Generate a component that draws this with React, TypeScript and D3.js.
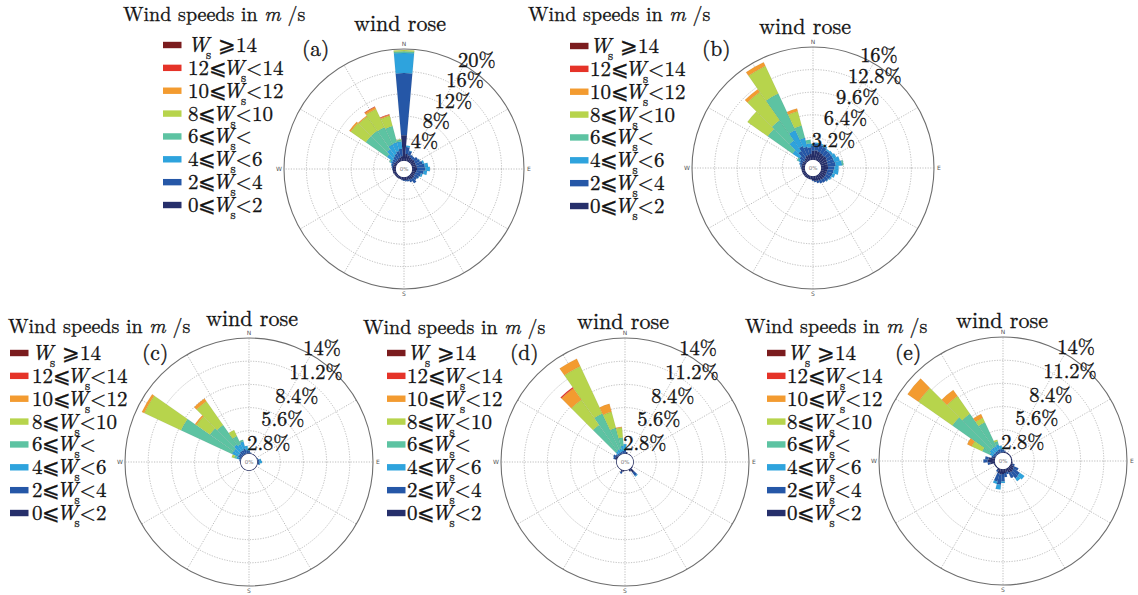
import React from 'react';
import * as d3 from 'd3';

// Speed bins: 0-2, 2-4, 4-6, 6-8, 8-10, 10-12, 12-14, >=14  (values in % frequency)
const speedColors = ['#262f6b', '#2557a7', '#2ea3dd', '#5dc3a2', '#b7d44c', '#f39b30', '#e53328', '#7b1c1e'];

// legend order top -> bottom
const legendPre = ['', '12⩽', '10⩽', '8⩽', '6⩽', '4⩽', '2⩽', '0⩽'];
const legendPost = [' ⩾14', '<14', '<12', '<10', '<', '<6', '<4', '<2'];
const legendColorIdx = [7, 6, 5, 4, 3, 2, 1, 0];

// rows: [direction(deg), f(0-2), f(2-4), f(4-6), f(6-8), f(8-10), f(10-12), f(12-14), f(>=14)]
const roseA = [
  [0, 4.6, 11.1, 3.6, 0.3, 0.2],
  [10, 1.3, 1.2, 0.3],
  [20, 1.1, 0.8, 0.1],
  [30, 0.9, 0.5],
  [40, 0.8, 0.5],
  [50, 0.9, 0.7],
  [60, 0.8, 0.9, 0.1],
  [70, 0.8, 1.2, 0.3],
  [80, 0.9, 1.4, 0.6],
  [90, 0.9, 1.5, 0.8],
  [100, 0.8, 1.3, 0.6],
  [110, 0.7, 1.0, 0.3],
  [120, 0.7, 0.8, 0.1],
  [130, 0.8, 0.6],
  [140, 0.8, 0.9],
  [150, 0.7, 0.5],
  [160, 0.6, 0.3],
  [170, 0.6, 0.2],
  [180, 0.6, 0.1],
  [190, 0.5, 0.1],
  [200, 0.5],
  [210, 0.5],
  [220, 0.5],
  [230, 0.5],
  [240, 0.5],
  [250, 0.6],
  [260, 0.6],
  [270, 0.6, 0.1],
  [280, 0.6, 0.2],
  [290, 0.6, 0.3, 0.1],
  [300, 0.6, 0.4, 0.3, 0.2],
  [310, 0.5, 0.6, 1.2, 4.6, 3.3, 0.3],
  [320, 0.5, 0.8, 1.6, 4.0, 3.1, 0.2],
  [330, 0.6, 1.0, 1.8, 3.4, 3.6, 0.4, 0.1],
  [340, 0.7, 1.2, 1.6, 3.0, 1.9, 0.2, 0.1],
  [350, 0.9, 1.3, 1.3, 0.3, 0.1],
];

const roseB = [
  [0, 1.3, 0.8, 0.2],
  [10, 1.4, 0.9, 0.2],
  [20, 1.3, 1.0, 0.2],
  [30, 1.2, 1.0, 0.2],
  [40, 1.1, 0.9, 0.2],
  [50, 1.2, 0.8, 0.3],
  [60, 1.1, 0.9, 0.5],
  [70, 1.0, 1.0, 0.8],
  [80, 1.0, 1.1, 0.9, 0.2],
  [90, 1.0, 0.9, 0.6],
  [100, 0.9, 0.9, 0.7],
  [110, 0.9, 0.8, 0.4],
  [120, 0.9, 0.7, 0.2],
  [130, 0.9, 0.6, 0.1],
  [140, 0.9, 0.5],
  [150, 0.8, 0.5],
  [160, 0.8, 0.3],
  [170, 0.7, 0.2],
  [180, 0.6, 0.1],
  [190, 0.5],
  [200, 0.5],
  [210, 0.5],
  [220, 0.5],
  [230, 0.5],
  [240, 0.5],
  [250, 0.5],
  [260, 0.5],
  [270, 0.5, 0.1],
  [280, 0.5, 0.2],
  [290, 0.5, 0.3, 0.1],
  [300, 0.5, 0.4, 0.3, 0.2],
  [310, 0.4, 0.8, 1.2, 4.3, 3.5],
  [320, 0.6, 1.2, 1.8, 3.5, 4.9, 0.5],
  [330, 0.8, 1.5, 2.5, 5.7, 4.3, 0.6],
  [340, 0.8, 1.2, 1.3, 1.8, 2.1, 0.4],
  [350, 0.9, 0.9, 0.6, 0.5],
];

const roseC = [
  [0, 0.1, 0.3, 0.3],
  [10, 0.1, 0.1],
  [20, 0.1],
  [30, 0.1],
  [40, 0.1],
  [50, 0.1],
  [60, 0.1],
  [70, 0.1, 0.1],
  [80, 0.1, 0.2, 0.2],
  [90, 0.1, 0.2, 0.3],
  [100, 0.1, 0.2, 0.1],
  [110, 0.1],
  [120, 0.1],
  [130, 0.1],
  [140, 0.1],
  [150, 0.1],
  [160, 0.1],
  [170, 0.1],
  [180, 0.1],
  [190, 0.1],
  [200, 0.1],
  [210, 0.1],
  [220, 0.1],
  [230, 0.1],
  [240, 0.1],
  [250, 0.1],
  [260, 0.1],
  [270, 0.1],
  [280, 0.1, 0.1],
  [290, 0.1, 0.2, 0.3, 0.3, 0.3],
  [300, 0.1, 0.4, 0.8, 6.8, 4.9, 0.3],
  [310, 0.1, 0.4, 0.8, 3.5, 2.0, 0.2],
  [320, 0.1, 0.5, 1.0, 2.9, 3.5, 0.4],
  [330, 0.1, 0.5, 0.8, 1.1, 0.8],
  [340, 0.1, 0.6, 0.9, 0.2],
  [350, 0.1, 0.4, 0.5],
];

const roseD = [
  [0, 0.1, 0.4, 0.7],
  [10, 0.25],
  [20, 0.1],
  [30, 0.1],
  [40, 0.1],
  [50, 0.1],
  [60, 0.1],
  [70, 0.1],
  [80, 0.1],
  [90, 0.1],
  [100, 0.1],
  [110, 0.1],
  [120, 0.1],
  [130, 0.15],
  [140, 0.6, 0.5, 0.1],
  [150, 0.3],
  [160, 0.1],
  [170, 0.1],
  [180, 0.1],
  [190, 0.2],
  [200, 0.3, 0.2],
  [210, 0.1],
  [220, 0.1],
  [230, 0.1],
  [240, 0.1],
  [250, 0.1],
  [260, 0.1],
  [270, 0.1],
  [280, 0.1],
  [290, 0.3, 0.2],
  [300, 0.3, 0.3],
  [310, 0.2, 0.2],
  [320, 0.1, 0.2, 0.3, 3.9, 3.7, 1.7, 0.15],
  [330, 0.1, 0.2, 0.4, 4.8, 6.3, 1.0],
  [340, 0.1, 0.2, 0.4, 2.6, 2.0, 1.0],
  [350, 0.1, 0.3, 0.6, 1.0, 1.2, 0.1],
];

const roseE = [
  [0, 0.1, 0.3, 0.3],
  [10, 0.2, 0.1],
  [20, 0.15],
  [30, 0.15],
  [40, 0.15],
  [50, 0.15],
  [60, 0.15],
  [70, 0.15],
  [80, 0.15],
  [90, 0.15],
  [100, 0.2],
  [110, 0.3, 0.2],
  [120, 0.5, 0.6],
  [130, 0.6, 0.9, 0.7],
  [140, 0.7, 0.9, 0.4],
  [150, 0.6, 0.7],
  [160, 0.4, 0.3],
  [170, 0.5, 0.5],
  [180, 0.6, 0.9, 0.2],
  [190, 0.7, 1.2, 0.6],
  [200, 0.6, 1.0, 0.3],
  [210, 0.3, 0.2],
  [220, 0.15],
  [230, 0.15],
  [240, 0.15],
  [250, 0.2],
  [260, 0.6, 0.3],
  [270, 0.9, 0.5],
  [280, 0.8, 0.4],
  [290, 0.3, 0.2],
  [300, 0.1, 0.3, 0.4, 1.0, 1.4, 0.6],
  [310, 0.1, 0.3, 0.6, 5.5, 5.0, 1.6],
  [320, 0.1, 0.3, 0.6, 5.0, 2.6, 0.9],
  [330, 0.1, 0.3, 0.6, 3.2, 0.6, 0.5],
  [340, 0.1, 0.4, 0.6, 0.4, 0.2],
  [350, 0.1, 0.4, 0.4],
];

const ticksA = [4, 8, 12, 16, 20];
const ticksB = [3.2, 6.4, 9.6, 12.8, 16];
const ticksC = [2.8, 5.6, 8.4, 11.2, 14];
const ticksD = [2.8, 5.6, 8.4, 11.2, 14];
const ticksE = [2.8, 5.6, 8.4, 11.2, 14];

const panelNames = ['(a)', '(b)', '(c)', '(d)', '(e)'];
const compass = ['N', 'E', 'S', 'W'];

// layout (positions / sizes)
const layouts = [
  { data: roseA, ticks: ticksA, cx: 404, cy: 169, R: 120, lab: [0.527, -9.2, -0.902, -0.8],
    legX: 123, legTitleY: 21, swX: 163, txX: 188, rowY0: 45, titleX: 400, titleY: 31, pX: 302, pY: 56 },
  { data: roseB, ticks: ticksB, cx: 813, cy: 168, R: 121, lab: [0.535, -17.6, -0.942, 0.4],
    legX: 528, legTitleY: 21, swX: 570, txX: 590, rowY0: 46, titleX: 805, titleY: 34, pX: 702, pY: 56 },
  { data: roseC, ticks: ticksC, cx: 249, cy: 462, R: 124, lab: [0.604, -20.7, -1.026, 13],
    legX: 8, legTitleY: 333, swX: 10, txX: 32, rowY0: 353, titleX: 252, titleY: 326, pX: 142, pY: 360 },
  { data: roseD, ticks: ticksD, cx: 625, cy: 462, R: 124, lab: [0.604, -20.7, -1.026, 13],
    legX: 363, legTitleY: 334, swX: 387, txX: 407, rowY0: 353, titleX: 623, titleY: 329, pX: 510, pY: 360 },
  { data: roseE, ticks: ticksE, cx: 1003, cy: 461, R: 124, lab: [0.604, -20.7, -1.026, 13],
    legX: 745, legTitleY: 333, swX: 767, txX: 787, rowY0: 353, titleX: 1002, titleY: 328, pX: 895, pY: 360 },
];

const R0 = 8;
const ROW_DY = 22.86;
const binKeys = d3.range(8).map(String);

const serifStyle = { fontFamily: '"Latin Modern Roman"' } as React.CSSProperties;
const sansStyle = { fontFamily: '"DejaVu Sans"' } as React.CSSProperties;
const INK = '#141414';

function Rose({ L, name }: { L: any; name: string }) {
  const fmax = L.ticks[L.ticks.length - 1];
  const r = d3.scaleLinear().domain([0, fmax]).range([R0, L.R]);
  const rows = L.data.map((row: number[]) => {
    const o: any = { dir: row[0] };
    binKeys.forEach((k, i) => { o[k] = row[i + 1] ?? 0; });
    return o;
  });
  const series = d3.stack().keys(binKeys)(rows);
  const toRad = (deg: number) => (deg * Math.PI) / 180;
  const arc = d3.arc();
  const gridColor = '#a0a0a0';

  const lab = L.lab;
  return (
    <g>
      {L.ticks.slice(0, -1).map((t: number) => (
        <circle key={'ring' + t} cx={L.cx} cy={L.cy} r={r(t)} fill="none" stroke={gridColor}
          strokeWidth={0.7} strokeDasharray="1.2 1.4" />
      ))}
      {d3.range(0, 360, 30).map((a) => {
        const p0 = d3.pointRadial(toRad(a), R0);
        const p1 = d3.pointRadial(toRad(a), L.R);
        return (
          <line key={'rad' + a} x1={L.cx + p0[0]} y1={L.cy + p0[1]} x2={L.cx + p1[0]} y2={L.cy + p1[1]}
            stroke={gridColor} strokeWidth={0.7} strokeDasharray="1.2 1.4" />
        );
      })}
      <g transform={`translate(${L.cx},${L.cy})`}>
        {series.map((s: any, si: number) =>
          s.map((d: any, di: number) => {
            if (d[1] - d[0] <= 0) return null;
            const dir = d.data.dir;
            const path = arc({
              innerRadius: r(d[0]),
              outerRadius: r(d[1]),
              startAngle: toRad(dir - 5),
              endAngle: toRad(dir + 5),
            } as any);
            return (
              <path key={si + '-' + di} d={path as string} fill={speedColors[si]}
                stroke="rgba(0,0,0,0.13)" strokeWidth={0.4} />
            );
          })
        )}
        <circle r={R0} fill="#fff" stroke="none" />
        <text x={0} y={0} dy="0.35em" textAnchor="middle" style={sansStyle} fontSize={5.5} fill="#777">0%</text>
      </g>
      <circle cx={L.cx} cy={L.cy} r={L.R} fill="none" stroke="#6e6e6e" strokeWidth={1.1} />
      {compass.map((c, i) => {
        const p = d3.pointRadial(toRad(i * 90), L.R + 5);
        return (
          <text key={c} x={L.cx + p[0]} y={L.cy + p[1]} dy="0.35em" textAnchor="middle"
            style={sansStyle} fontSize={6} fill="#555">{c}</text>
        );
      })}
      {L.ticks.map((t: number) => {
        const rr = r(t);
        return (
          <text key={'lab' + t} x={L.cx + lab[0] * rr + lab[1]} y={L.cy + lab[2] * rr + lab[3]} dy="0.35em"
            style={serifStyle} fontSize={20.5} fill={INK} stroke={INK} strokeWidth={0.35}>{`${t}%`}</text>
        );
      })}
      <text x={L.titleX} y={L.titleY} textAnchor="middle" style={serifStyle} fontSize={22} fill={INK}
        stroke={INK} strokeWidth={0.3}>wind rose</text>
      <text x={L.pX} y={L.pY} style={serifStyle} fontSize={21.5} fill={INK} stroke={INK} strokeWidth={0.3}>{name}</text>
      <text x={L.legX} y={L.legTitleY} style={serifStyle} fontSize={20} fill={INK} stroke={INK} strokeWidth={0.3}>
        Wind speeds in <tspan fontStyle="italic">m</tspan> /s
      </text>
      {legendPre.map((pre, i) => {
        const y = L.rowY0 + i * ROW_DY;
        return (
          <g key={'leg' + i}>
            <rect x={L.swX} y={y - 3.2} width={18.5} height={6.4} fill={speedColors[legendColorIdx[i]]} />
            <text x={L.txX} y={y + 7} style={serifStyle} fontSize={21} fill={INK} stroke={INK} strokeWidth={0.3}>
              {pre}
              <tspan fontStyle="italic" dx={pre ? -4 : 0}>W</tspan>
              <tspan fontSize={13} dx={-3} dy={7}>s</tspan>
              <tspan dy={-7}>{legendPost[i]}</tspan>
            </text>
          </g>
        );
      })}
    </g>
  );
}

export default function App() {
  return (
    <svg width={1138} height={595} viewBox="0 0 1138 595"
      style={{ position: 'absolute', left: 0, top: 0, background: '#fff' }}>
      <rect width={1138} height={595} fill="#fff" />
      {layouts.map((L, i) => (
        <Rose key={i} L={L} name={panelNames[i]} />
      ))}
    </svg>
  );
}
